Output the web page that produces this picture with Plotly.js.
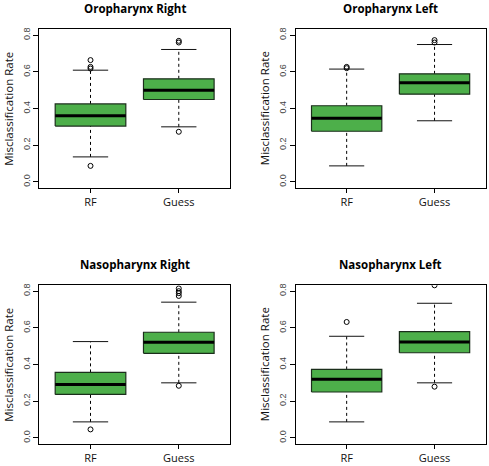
<!DOCTYPE html>
<html>
<head>
<meta charset="utf-8">
<script src="https://cdn.plot.ly/plotly-3.0.1.min.js"></script>
<style>html,body{margin:0;padding:0;background:#fff;}#chart{width:489px;height:466px;}</style>
</head>
<body>
<div id="chart"></div>
<script>
// ---- data ----
const panelTitles = ["Oropharynx Right", "Oropharynx Left", "Nasopharynx Right", "Nasopharynx Left"];
const categories = ["RF", "Guess"];
const yTickVals = [0, 0.2, 0.4, 0.6, 0.8];
const yTickText = ["0.0", "0.2", "0.4", "0.6", "0.8"];
const yLabel = "Misclassification Rate";

// per panel: [RF, Guess]
const q1Vals      = [[0.304, 0.449], [0.276, 0.478], [0.237, 0.461], [0.250, 0.464]];
const medianVals  = [[0.360, 0.500], [0.347, 0.540], [0.291, 0.522], [0.319, 0.523]];
const q3Vals      = [[0.425, 0.562], [0.415, 0.589], [0.357, 0.576], [0.373, 0.579]];
const lowerWhisk  = [[0.136, 0.300], [0.087, 0.333], [0.087, 0.300], [0.087, 0.300]];
const upperWhisk  = [[0.609, 0.722], [0.615, 0.749], [0.525, 0.740], [0.554, 0.734]];
const outlierVals = [
  [[0.664, 0.627, 0.618, 0.087], [0.769, 0.760, 0.273]],
  [[0.627, 0.620], [0.773, 0.760]],
  [[0.046], [0.815, 0.800, 0.789, 0.774, 0.284]],
  [[0.632], [0.832, 0.279]]
];

// ---- layout geometry ----
const W = 489, H = 466;
const xDomains = [[39.3, 230], [295.7, 485.5], [39.3, 230], [295.7, 485.5]];
const yDomainsPx = [[29.3, 187.7], [29.3, 187.7], [285.3, 443.7], [285.3, 443.7]];
const titleY = [8, 8, 264, 264];

const green = "#4daf4a";
const halfBox = 0.4, halfCap = 0.2;

const traces = [];
const layout = {
  width: W, height: H,
  margin: {l: 0, r: 0, t: 0, b: 0},
  paper_bgcolor: "#fff", plot_bgcolor: "#fff",
  showlegend: false,
  annotations: []
};

for (let p = 0; p < 4; p++) {
  const ax = p === 0 ? "" : String(p + 1);
  const xa = "x" + ax, ya = "y" + ax;
  for (let g = 0; g < categories.length; g++) {
    const c = g + 1;
    const q1 = q1Vals[p][g], q3 = q3Vals[p][g], med = medianVals[p][g];
    const lo = lowerWhisk[p][g], hi = upperWhisk[p][g];
    // whiskers (dashed)
    traces.push({type: "scatter", mode: "lines", xaxis: xa, yaxis: ya, hoverinfo: "skip",
      x: [c, c, null, c, c], y: [q3, hi, null, lo, q1],
      line: {color: "#000", width: 1, dash: "3px,3px"}});
    // caps
    traces.push({type: "scatter", mode: "lines", xaxis: xa, yaxis: ya, hoverinfo: "skip",
      x: [c - halfCap, c + halfCap, null, c - halfCap, c + halfCap], y: [hi, hi, null, lo, lo],
      line: {color: "#111", width: 1}});
    // box
    traces.push({type: "scatter", mode: "lines", xaxis: xa, yaxis: ya, hoverinfo: "skip",
      x: [c - halfBox, c + halfBox, c + halfBox, c - halfBox, c - halfBox],
      y: [q1, q1, q3, q3, q1], fill: "toself", fillcolor: green,
      line: {color: "#1b2e1b", width: 1.2}});
    // median
    traces.push({type: "scatter", mode: "lines", xaxis: xa, yaxis: ya, hoverinfo: "skip",
      x: [c - halfBox, c + halfBox], y: [med, med],
      line: {color: "#000", width: 3}});
    // outliers
    const outs = outlierVals[p][g];
    traces.push({type: "scatter", mode: "markers", xaxis: xa, yaxis: ya, hoverinfo: "y",
      x: outs.map(() => c), y: outs,
      marker: {symbol: "circle-open", size: 5, color: "#000", line: {width: 1, color: "#000"}}});
  }
  const xd = xDomains[p], yd = yDomainsPx[p];
  layout["xaxis" + ax] = {
    domain: [xd[0] / W, xd[1] / W], anchor: ya,
    range: [0.42, 2.58], fixedrange: true,
    tickvals: [1, 2], ticktext: categories,
    ticks: "outside", ticklen: 4, tickcolor: "#000", tickwidth: 1,
    showline: true, mirror: true, linecolor: "#000", linewidth: 1,
    showgrid: false, zeroline: false,
    tickfont: {family: "Open Sans, sans-serif", size: 11, color: "#111"}
  };
  layout["yaxis" + ax] = {
    domain: [1 - yd[1] / H, 1 - yd[0] / H], anchor: xa,
    range: [-0.032, 0.832], fixedrange: true,
    tickvals: yTickVals, ticktext: yTickText, tickangle: -90,
    ticks: "outside", ticklen: 5, tickcolor: "#000", tickwidth: 1,
    showline: true, mirror: true, linecolor: "#000", linewidth: 1,
    showgrid: false, zeroline: false,
    tickfont: {family: "Liberation Sans, Arial, sans-serif", size: 9, color: "#444"}
  };
  layout.annotations.push({
    text: "<b>" + panelTitles[p] + "</b>", xref: "paper", yref: "paper",
    x: ((xd[0] + xd[1]) / 2) / W, y: 1 - titleY[p] / H,
    xanchor: "center", yanchor: "middle", showarrow: false,
    font: {family: "Open Sans, sans-serif", size: 11.5, color: "#000"}
  });
  layout.annotations.push({
    text: yLabel, xref: "paper", yref: "paper", textangle: -90,
    x: (xd[0] - 31) / W, y: 1 - ((yd[0] + yd[1]) / 2) / H,
    xanchor: "center", yanchor: "middle", showarrow: false,
    font: {family: "Open Sans, sans-serif", size: 11.5, color: "#111"}
  });
}

Plotly.newPlot("chart", traces, layout, {displayModeBar: false, staticPlot: true});
</script>
</body>
</html>
